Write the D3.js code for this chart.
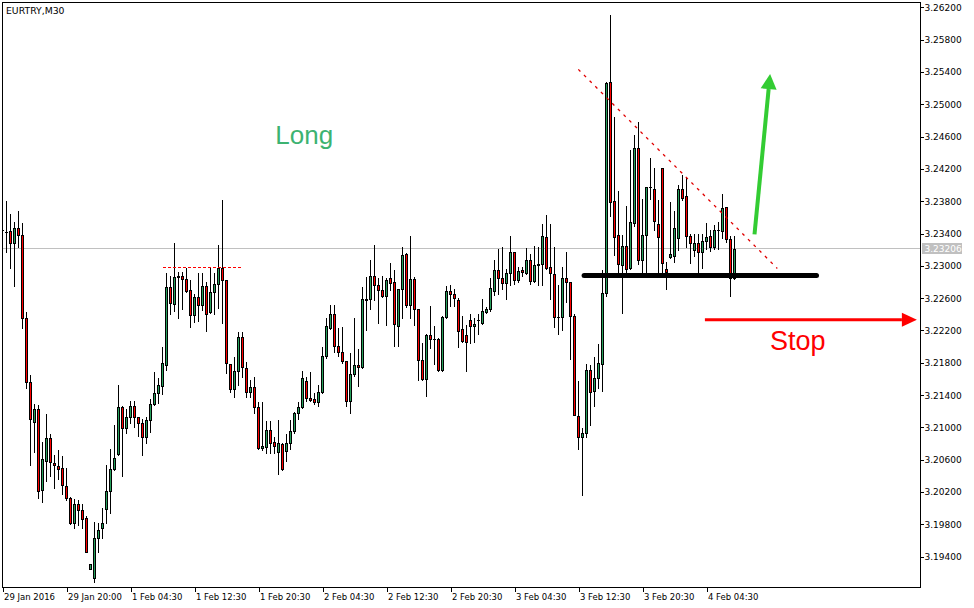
<!DOCTYPE html>
<html><head><meta charset="utf-8">
<script src="https://cdn.jsdelivr.net/npm/d3@7"></script>
<style>body{margin:0;background:#fff}svg{display:block}</style>
</head><body>
<svg id="c" width="974" height="608"></svg>
<script>
const symbol = "EURTRY,M30";
const lastPrice = 3.23206;
const open = [
3.23443,3.23418,3.23431,3.23282,3.23468,3.23381,3.22353,3.21561,3.21065,3.21227,
3.20224,3.20583,3.20868,3.20558,3.20521,3.20496,3.20274,3.20125,3.19815,3.20050,
3.19976,3.19877,3.19246,3.19134,3.19630,3.19753,3.19989,3.20212,3.20484,3.20669,
3.21251,3.20991,3.21127,3.21264,3.21127,3.21053,3.20880,3.21090,3.21288,3.21425,
3.21512,3.21771,3.22737,3.22526,3.22860,3.22873,3.22836,3.22700,3.22390,3.22613,
3.22514,3.22750,3.22427,3.22675,3.22774,3.22972,3.22824,3.21783,3.21475,3.21697,
3.22118,3.21734,3.21437,3.21499,3.21251,3.20744,3.20756,3.20967,3.20818,3.20694,
3.20793,3.20707,3.20806,3.20955,3.21177,3.21251,3.21574,3.21363,3.21351,3.21313,
3.21437,3.21883,3.22229,3.22402,3.22007,3.21932,3.21821,3.21326,3.21659,3.21771,
3.21746,3.22588,3.22588,3.22873,3.22762,3.22700,3.22626,3.22848,3.22799,3.22254,
3.22713,3.23146,3.22514,3.22836,3.22465,3.21833,3.21598,3.22143,3.22093,3.22093,
3.21709,3.22365,3.22688,3.22650,3.22576,3.22216,3.22143,3.22328,3.22254,3.22328,
3.22291,3.22427,3.22465,3.22688,3.22947,3.22848,3.22787,3.22910,3.23170,3.22824,
3.22947,3.22910,3.23071,3.22811,3.23009,3.23021,3.23356,3.22984,3.22898,3.22365,
3.22365,3.22848,3.22799,3.22378,3.21140,3.20880,3.20930,3.21709,3.21450,3.21610,
3.21783,3.22663,3.25275,3.23802,3.23381,3.23009,3.23245,3.22972,3.23529,3.24458,
3.23071,3.23381,3.23975,3.23950,3.23516,3.24210,3.22959,3.23108,3.23121,3.23343,
3.23950,3.23863,3.23368,3.23195,3.23282,3.23170,3.23307,3.23368,3.23232,3.23443,
3.23431,3.23727,3.23331,3.22848];
const high = [
3.23492,3.23802,3.23640,3.23541,3.23678,3.23529,3.22427,3.21647,3.21288,3.21276,
3.20818,3.21164,3.20917,3.20657,3.20719,3.20645,3.20496,3.20137,3.20113,3.20100,
3.20050,3.19902,3.19307,3.19827,3.19815,3.20001,3.20533,3.20732,3.21028,3.21524,
3.21264,3.21227,3.21326,3.21326,3.21127,3.21103,3.21127,3.21351,3.21684,3.21610,
3.21994,3.22910,3.22873,3.23282,3.22922,3.22922,3.22972,3.22824,3.22650,3.22910,
3.22910,3.22799,3.22984,3.22910,3.23257,3.23814,3.22824,3.21783,3.21870,3.22180,
3.22180,3.21808,3.21586,3.21622,3.21313,3.21313,3.21078,3.21078,3.20880,3.21090,
3.20806,3.20917,3.21090,3.21189,3.21313,3.21697,3.21622,3.21684,3.21425,3.21524,
3.21994,3.22353,3.22514,3.22514,3.22229,3.22241,3.21821,3.21920,3.22353,3.21969,
3.22737,3.22860,3.23071,3.23257,3.22848,3.22873,3.22848,3.23034,3.22947,3.22713,
3.23232,3.23158,3.23368,3.22860,3.22465,3.22044,3.22155,3.22502,3.22254,3.22106,
3.22378,3.22750,3.22762,3.22713,3.22601,3.22378,3.22266,3.22402,3.22353,3.22402,
3.22588,3.22489,3.22848,3.23071,3.23207,3.23232,3.22959,3.23368,3.23170,3.22984,
3.22984,3.23220,3.23146,3.23245,3.23232,3.23516,3.23628,3.23516,3.23232,3.22762,
3.22984,3.23170,3.22799,3.22402,3.21574,3.20991,3.21783,3.21771,3.21870,3.22032,
3.22947,3.25275,3.26104,3.24841,3.23926,3.23381,3.23740,3.24433,3.24619,3.24779,
3.23826,3.23975,3.24334,3.24210,3.23814,3.24210,3.23046,3.23789,3.23678,3.24000,
3.24123,3.24099,3.23393,3.23393,3.23393,3.23393,3.23529,3.23443,3.23504,3.23541,
3.23888,3.23727,3.23368,3.23368];
const low = [
3.23406,3.23170,3.22972,3.22750,3.23232,3.22229,3.21487,3.20533,3.20694,3.20125,
3.20075,3.20336,3.20397,3.20249,3.20360,3.20174,3.20100,3.19802,3.19753,3.19790,
3.19753,3.19456,3.19246,3.19085,3.19456,3.19630,3.19815,3.19939,3.20471,3.20657,
3.20397,3.20930,3.21053,3.21003,3.20893,3.20657,3.20806,3.20942,3.21276,3.21301,
3.21412,3.21709,3.22402,3.22440,3.22353,3.22465,3.22675,3.22241,3.22303,3.22316,
3.22452,3.22193,3.22415,3.22402,3.22477,3.22291,3.21672,3.21437,3.21375,3.21524,
3.21622,3.21375,3.21375,3.21177,3.20732,3.20719,3.20682,3.20682,3.20682,3.20421,
3.20471,3.20583,3.20732,3.20930,3.21103,3.21239,3.21326,3.21326,3.21288,3.21264,
3.21425,3.21858,3.22216,3.21932,3.21883,3.21796,3.21264,3.21177,3.21635,3.21512,
3.21734,3.22205,3.22465,3.22576,3.22291,3.22613,3.22266,3.22700,3.22007,3.22007,
3.22353,3.22489,3.22353,3.22266,3.21586,3.21586,3.21388,3.21982,3.21783,3.21697,
3.21697,3.22353,3.22502,3.22502,3.21994,3.22056,3.21697,3.22044,3.22056,3.22155,
3.22279,3.22415,3.22440,3.22638,3.22650,3.22713,3.22588,3.22762,3.22774,3.22799,
3.22873,3.22898,3.22774,3.22799,3.22762,3.22762,3.22959,3.22588,3.22241,3.22155,
3.22205,3.22551,3.21845,3.21152,3.20732,3.20162,3.20880,3.21028,3.21264,3.21487,
3.21450,3.22626,3.23616,3.23133,3.22910,3.22415,3.22922,3.22959,3.23492,3.23021,
3.22922,3.22910,3.23826,3.23443,3.22922,3.22922,3.22713,3.23096,3.23046,3.23195,
3.23814,3.23232,3.23034,3.23121,3.22910,3.22972,3.23207,3.23183,3.23207,3.23207,
3.23343,3.23294,3.22626,3.22836];
const close = [
3.23443,3.23418,3.23282,3.23468,3.23381,3.22353,3.21561,3.21103,3.21227,3.20212,
3.20608,3.20868,3.20570,3.20533,3.20484,3.20286,3.20125,3.19815,3.20050,3.19976,
3.19865,3.19456,3.19307,3.19630,3.19729,3.19815,3.20212,3.20484,3.20620,3.21251,
3.20991,3.21127,3.21264,3.21127,3.21053,3.20880,3.21090,3.21288,3.21425,3.21524,
3.21796,3.22737,3.22539,3.22860,3.22873,3.22836,3.22688,3.22390,3.22613,3.22514,
3.22750,3.22402,3.22675,3.22774,3.22972,3.22824,3.21796,3.21475,3.21697,3.22118,
3.21746,3.21437,3.21499,3.21251,3.20744,3.20769,3.20967,3.20806,3.20769,3.20806,
3.20484,3.20806,3.20955,3.21177,3.21251,3.21610,3.21363,3.21338,3.21313,3.21437,
3.21883,3.22254,3.22402,3.22007,3.21932,3.21821,3.21326,3.21659,3.21771,3.21746,
3.22588,3.22576,3.22873,3.22762,3.22700,3.22626,3.22824,3.22787,3.22279,3.22713,
3.23133,3.22514,3.22836,3.22465,3.21833,3.21598,3.22143,3.22093,3.22093,3.21709,
3.22365,3.22688,3.22650,3.22601,3.22193,3.22069,3.22056,3.22254,3.22279,3.22328,
3.22440,3.22465,3.22725,3.22947,3.22848,3.22787,3.22910,3.23170,3.22824,3.22935,
3.22922,3.23071,3.22811,3.23009,3.23021,3.23368,3.22972,3.22910,3.22365,3.22365,
3.22848,3.22799,3.22378,3.21152,3.20880,3.20930,3.21709,3.21437,3.21610,3.21796,
3.22663,3.25263,3.23789,3.23356,3.23021,3.23245,3.22959,3.23541,3.24458,3.23071,
3.23381,3.23975,3.23975,3.23554,3.23356,3.23034,3.22922,3.23146,3.23468,3.23950,
3.23839,3.23368,3.23282,3.23282,3.23170,3.23307,3.23356,3.23232,3.23443,3.23443,
3.23715,3.23331,3.22848,3.23206];
const yTicks = [3.194,3.198,3.202,3.206,3.210,3.214,3.218,3.222,3.226,3.230,3.234,3.238,3.242,3.246,3.250,3.254,3.258,3.262];
const xTickIndex = [0,16,32,48,64,80,96,112,128,144,160,176];
const xTickLabels = ["29 Jan 2016","29 Jan 20:00","1 Feb 04:30","1 Feb 12:30","1 Feb 20:30","2 Feb 04:30","2 Feb 12:30","2 Feb 20:30","3 Feb 04:30","3 Feb 12:30","3 Feb 20:30","4 Feb 04:30"];
// annotation objects (bar index, price)
const resistance = {i0:40, i1:60, price:3.22980};
const support = {i0:145.4, i1:203.5, price:3.22881};
const trend = {i0:143.95, p0:3.25432, i1:193.7, p1:3.22968};
const stopArrow = {i0:175.6, i1:228.6, price:3.22334};
const longArrow = {i0:188.0, p0:3.23390, i1:191.9, p1:3.25373};
const longText = {i:68.2, price:3.24505, text:"Long"};
const stopText = {i:191.9, price:3.21955, text:"Stop"};

const W = 974, H = 608;
const L = 2.5, T = 2.5, R = 920.5, B = 587.5;
const BULL = "#26a05c", BEAR = "#ff0000";

const svg = d3.select("#c");
svg.append("rect").attr("width", W).attr("height", H).attr("fill", "#fff");
const x = d3.scaleLinear().domain([0, 1]).range([2.5, 6.5]);
const y = d3.scaleLinear().domain([3.194, 3.262]).range([556.7, 7.3]);

svg.append("defs").append("clipPath").attr("id", "pc")
  .append("rect").attr("x", 3).attr("y", 3).attr("width", R - 3).attr("height", B - 3);

const plot = svg.append("g").attr("clip-path", "url(#pc)");

// last price line
plot.append("line").attr("x1", L).attr("x2", R)
  .attr("y1", Math.round(y(lastPrice)) - 0.5).attr("y2", Math.round(y(lastPrice)) - 0.5)
  .attr("stroke", "#c0c0c0").attr("stroke-width", 1).attr("shape-rendering", "crispEdges");

const data = open.map((o, i) => ({i, o, h: high[i], l: low[i], c: close[i]}));
const cg = plot.append("g").attr("shape-rendering", "crispEdges");
data.forEach(d => {
  const cx = Math.floor(x(d.i));
  const yh = Math.round(y(d.h)), yl = Math.round(y(d.l));
  cg.append("rect").attr("x", cx).attr("y", yh).attr("width", 1)
    .attr("height", Math.max(1, yl - yh + 1)).attr("fill", "#000");
  const top = Math.round(y(Math.max(d.o, d.c))), bot = Math.round(y(Math.min(d.o, d.c)));
  const hgt = bot - top + 1;
  cg.append("rect").attr("x", cx - 1).attr("y", top).attr("width", 3).attr("height", hgt).attr("fill", "#000");
  if (hgt > 2) {
    cg.append("rect").attr("x", cx).attr("y", top + 1).attr("width", 1).attr("height", hgt - 2)
      .attr("fill", d.c > d.o ? BULL : BEAR);
  }
});

// annotations
plot.append("line")
  .attr("x1", x(resistance.i0)).attr("x2", x(resistance.i1))
  .attr("y1", Math.round(y(resistance.price)) + 0.5).attr("y2", Math.round(y(resistance.price)) + 0.5)
  .attr("stroke", "#ff0000").attr("stroke-width", 1).attr("stroke-dasharray", "3,2")
  .attr("shape-rendering", "crispEdges");

plot.append("line")
  .attr("x1", x(trend.i0)).attr("y1", y(trend.p0)).attr("x2", x(trend.i1)).attr("y2", y(trend.p1))
  .attr("stroke", "#e00000").attr("stroke-width", 1.3).attr("stroke-dasharray", "3,5");

plot.append("line")
  .attr("x1", x(support.i0)).attr("x2", x(support.i1))
  .attr("y1", y(support.price)).attr("y2", y(support.price))
  .attr("stroke", "#000").attr("stroke-width", 5).attr("stroke-linecap", "round");

function arrow(x0, y0, x1, y1, color, width, headLen, headHalf) {
  const dx = x1 - x0, dy = y1 - y0, len = Math.hypot(dx, dy);
  const ux = dx / len, uy = dy / len;
  const bx = x1 - ux * headLen, by = y1 - uy * headLen;
  plot.append("line").attr("x1", x0).attr("y1", y0).attr("x2", bx).attr("y2", by)
    .attr("stroke", color).attr("stroke-width", width);
  plot.append("path")
    .attr("d", `M${x1},${y1}L${bx - uy * headHalf},${by + ux * headHalf}L${bx + uy * headHalf},${by - ux * headHalf}Z`)
    .attr("fill", color);
}
arrow(x(stopArrow.i0), y(stopArrow.price), x(stopArrow.i1), y(stopArrow.price), "#ff0000", 3, 15, 7);
arrow(x(longArrow.i0), y(longArrow.p0), x(longArrow.i1), y(longArrow.p1), "#33cc33", 4, 15, 8);

plot.append("text").attr("x", x(longText.i)).attr("y", y(longText.price))
  .attr("font-family", "'Liberation Sans', Arial, sans-serif").attr("font-size", 26)
  .attr("fill", "#3cb371").text(longText.text);
plot.append("text").attr("x", x(stopText.i)).attr("y", y(stopText.price))
  .attr("font-family", "'Liberation Sans', Arial, sans-serif").attr("font-size", 27)
  .attr("fill", "#ff0000").text(stopText.text);

// frame
svg.append("rect").attr("x", L).attr("y", T).attr("width", R - L).attr("height", B - T)
  .attr("fill", "none").attr("stroke", "#000").attr("stroke-width", 1).attr("shape-rendering", "crispEdges");

// title
svg.append("text").attr("x", 6).attr("y", 13.5)
  .attr("font-family", "'DejaVu Sans', sans-serif").attr("font-size", 9.3).attr("fill", "#000").text(symbol);

// y axis
const yAxis = svg.append("g").attr("transform", `translate(${R},0)`)
  .call(d3.axisRight(y).tickValues(yTicks).tickSize(3).tickPadding(1).tickFormat(d3.format(".5f")));
yAxis.select(".domain").remove();
yAxis.selectAll("line").attr("shape-rendering", "crispEdges");
yAxis.selectAll("text").attr("font-family", "'DejaVu Sans', sans-serif").attr("font-size", 9).attr("fill", "#000");

// last price label
const yl = Math.round(y(lastPrice)) - 0.5;
svg.append("rect").attr("x", R + 1).attr("y", yl - 5.5).attr("width", 40).attr("height", 11)
  .attr("fill", "#c0c0c0").attr("shape-rendering", "crispEdges");
svg.append("text").attr("x", R + 4).attr("y", yl).attr("dy", "0.34em")
  .attr("font-family", "'DejaVu Sans', sans-serif").attr("font-size", 9).attr("fill", "#fff")
  .text(d3.format(".5f")(lastPrice));

// x axis
const xAxis = svg.append("g").attr("transform", `translate(0,${B})`)
  .call(d3.axisBottom(x).tickValues(xTickIndex).tickSize(4).tickPadding(2)
    .tickFormat((d, k) => xTickLabels[k]));
xAxis.select(".domain").remove();
xAxis.selectAll("line").attr("shape-rendering", "crispEdges");
xAxis.selectAll("text").attr("text-anchor", "start").attr("dx", 1)
  .attr("font-family", "'DejaVu Sans', sans-serif").attr("font-size", 8.5).attr("fill", "#000");
</script>
</body></html>
